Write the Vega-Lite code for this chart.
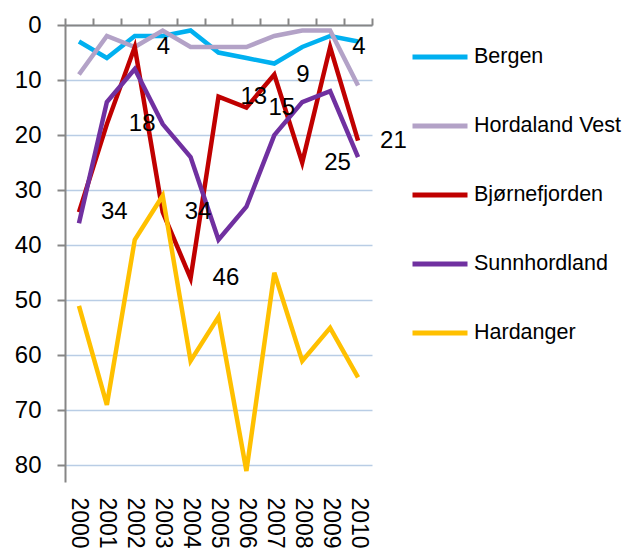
{
  "$schema": "https://vega.github.io/schema/vega-lite/v6.json",
  "autosize": "none",
  "width": 307,
  "height": 457,
  "padding": {"left": 65, "top": 25, "right": 251, "bottom": 68},
  "background": "white",
  "config": {"view": {"stroke": null}, "font": "Liberation Sans"},
  "data": {"values": [
    {"region": "Bergen", "year": 2000, "rank": 3},
    {"region": "Bergen", "year": 2001, "rank": 6},
    {"region": "Bergen", "year": 2002, "rank": 2},
    {"region": "Bergen", "year": 2003, "rank": 2},
    {"region": "Bergen", "year": 2004, "rank": 1},
    {"region": "Bergen", "year": 2005, "rank": 5},
    {"region": "Bergen", "year": 2006, "rank": 6},
    {"region": "Bergen", "year": 2007, "rank": 7},
    {"region": "Bergen", "year": 2008, "rank": 4},
    {"region": "Bergen", "year": 2009, "rank": 2},
    {"region": "Bergen", "year": 2010, "rank": 3},
    {"region": "Hordaland Vest", "year": 2000, "rank": 9},
    {"region": "Hordaland Vest", "year": 2001, "rank": 2},
    {"region": "Hordaland Vest", "year": 2002, "rank": 4},
    {"region": "Hordaland Vest", "year": 2003, "rank": 1},
    {"region": "Hordaland Vest", "year": 2004, "rank": 4},
    {"region": "Hordaland Vest", "year": 2005, "rank": 4},
    {"region": "Hordaland Vest", "year": 2006, "rank": 4},
    {"region": "Hordaland Vest", "year": 2007, "rank": 2},
    {"region": "Hordaland Vest", "year": 2008, "rank": 1},
    {"region": "Hordaland Vest", "year": 2009, "rank": 1},
    {"region": "Hordaland Vest", "year": 2010, "rank": 11},
    {"region": "Bjørnefjorden", "year": 2000, "rank": 34},
    {"region": "Bjørnefjorden", "year": 2001, "rank": 18},
    {"region": "Bjørnefjorden", "year": 2002, "rank": 4},
    {"region": "Bjørnefjorden", "year": 2003, "rank": 34},
    {"region": "Bjørnefjorden", "year": 2004, "rank": 46},
    {"region": "Bjørnefjorden", "year": 2005, "rank": 13},
    {"region": "Bjørnefjorden", "year": 2006, "rank": 15},
    {"region": "Bjørnefjorden", "year": 2007, "rank": 9},
    {"region": "Bjørnefjorden", "year": 2008, "rank": 25},
    {"region": "Bjørnefjorden", "year": 2009, "rank": 4},
    {"region": "Bjørnefjorden", "year": 2010, "rank": 21},
    {"region": "Sunnhordland", "year": 2000, "rank": 36},
    {"region": "Sunnhordland", "year": 2001, "rank": 14},
    {"region": "Sunnhordland", "year": 2002, "rank": 8},
    {"region": "Sunnhordland", "year": 2003, "rank": 18},
    {"region": "Sunnhordland", "year": 2004, "rank": 24},
    {"region": "Sunnhordland", "year": 2005, "rank": 39},
    {"region": "Sunnhordland", "year": 2006, "rank": 33},
    {"region": "Sunnhordland", "year": 2007, "rank": 20},
    {"region": "Sunnhordland", "year": 2008, "rank": 14},
    {"region": "Sunnhordland", "year": 2009, "rank": 12},
    {"region": "Sunnhordland", "year": 2010, "rank": 24},
    {"region": "Hardanger", "year": 2000, "rank": 51},
    {"region": "Hardanger", "year": 2001, "rank": 69},
    {"region": "Hardanger", "year": 2002, "rank": 39},
    {"region": "Hardanger", "year": 2003, "rank": 31},
    {"region": "Hardanger", "year": 2004, "rank": 61},
    {"region": "Hardanger", "year": 2005, "rank": 53},
    {"region": "Hardanger", "year": 2006, "rank": 81},
    {"region": "Hardanger", "year": 2007, "rank": 45},
    {"region": "Hardanger", "year": 2008, "rank": 61},
    {"region": "Hardanger", "year": 2009, "rank": 55},
    {"region": "Hardanger", "year": 2010, "rank": 64}
  ]},
  "layer": [
    {
      "mark": {"type": "line", "strokeWidth": 4.5, "clip": false},
      "encoding": {
        "x": {"field": "year", "type": "quantitative",
          "scale": {"domain": [1999.5, 2010.5], "nice": false, "zero": false},
          "axis": {"orient": "bottom", "values": [2000,2001,2002,2003,2004,2005,2006,2007,2008,2009,2010], "format": "d",
            "labelAngle": 90, "labelAlign": "left", "labelBaseline": "middle", "labelFontSize": 23, "labelColor": "black",
            "domain": false, "ticks": false, "grid": false, "labelPadding": 15, "title": null, "labelOverlap": false}},
        "y": {"field": "rank", "type": "quantitative",
          "scale": {"domain": [0, 83], "reverse": true, "nice": false, "zero": false},
          "axis": {"values": [0,10,20,30,40,50,60,70,80], "title": null, "labelFontSize": 24, "labelColor": "black",
            "labelPadding": 16, "domainColor": "#868686", "domainWidth": 2, "tickColor": "#868686", "tickWidth": 2,
            "tickSize": 8, "gridColor": "#B9CDE5", "gridWidth": 1.5}},
        "color": {"field": "region", "type": "nominal",
          "scale": {"domain": ["Bergen", "Hordaland Vest", "Bjørnefjorden", "Sunnhordland", "Hardanger"],
                    "range": ["#00B0F0", "#B3A2C7", "#C00000", "#7030A0", "#FFC000"]},
          "legend": {"orient": "none", "legendX": 345, "legendY": 2, "title": null, "symbolType": "stroke",
            "symbolSize": 3025, "symbolStrokeWidth": 5, "labelFontSize": 21.5, "labelColor": "black",
            "labelOffset": 4, "rowPadding": 28}}
      }
    },
    {
      "transform": [{"filter": "datum.region === 'Bjørnefjorden'"}],
      "mark": {"type": "text", "align": "left", "baseline": "middle", "dx": 22, "fontSize": 24, "color": "black"},
      "encoding": {
        "x": {"field": "year", "type": "quantitative",
          "axis": {"orient": "top", "values": [1999.5,2000.5,2001.5,2002.5,2003.5,2004.5,2005.5,2006.5,2007.5,2008.5,2009.5,2010.5],
            "labels": false, "tickSize": 7, "domainColor": "#868686", "domainWidth": 2, "tickColor": "#868686", "tickWidth": 2,
            "grid": false, "title": null}},
        "y": {"field": "rank", "type": "quantitative"},
        "text": {"field": "rank", "type": "quantitative"}
      }
    }
  ],
  "resolve": {"axis": {"x": "independent"}}
}
